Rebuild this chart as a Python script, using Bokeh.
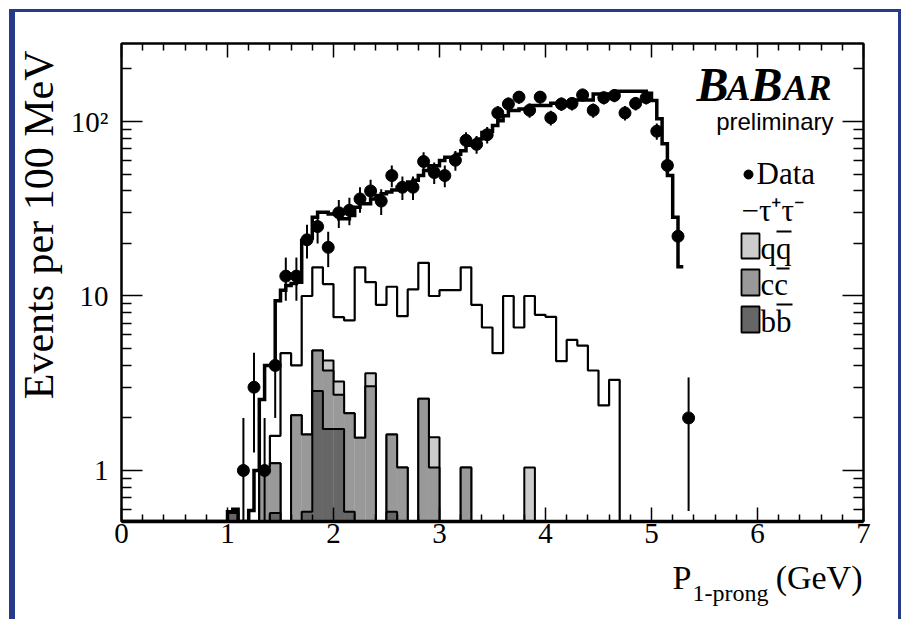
import math
from bokeh.plotting import figure
from bokeh.models import Range1d, LinearAxis, LogAxis, FixedTicker, Label, LinearScale, Spacer
from bokeh.layouts import column, row
from bokeh.embed import file_html
from bokeh.resources import INLINE

# ---------------- data ----------------
data_first_center = 1.15
data_bin_width = 0.1
data_counts = [1, 3, 1, 4, 13, 13, 21, 25, 19, 30, 31, 36, 40, 35, 49, 42, 42, 59, 51, 49,
               60, 78, 74, 84, 112, 126, 138, 116, 138, 105, 126, 127, 142, 116, 137, 141,
               112, 127, 137, 88, 56, 22, 2]

mc_first_edge = 1.0
mc_fine_width = 0.05
tautau_total = [0.58, 0.60, 0, 0, 0.59, 1.0, 2.55, 4.0, 4.0, 9.4,
                10.8, 11.5, 11.8, 12.0, 20.8, 21.5, 28.3, 30.2, 30.2, 29.5,
                29.6, 27.7, 27.7, 28.9, 32.3, 33.8, 33.8, 36.0, 37.7, 38.5,
                39.5, 40.5, 42.0, 43.0, 45.0, 46.0, 49.0, 52.4, 55.8, 55.8,
                59.8, 62.5, 62.5, 65.0, 68.0, 73.0, 76.0, 79.5, 86.6, 88.0,
                95.0, 101, 108, 115.6, 115.6, 118, 118, 123.6, 123.6, 123.6,
                123.6, 127.4, 127.4, 127.4, 127.4, 133, 133, 133, 133, 144,
                144, 144, 144, 149, 149, 149, 149, 149, 149, 145,
                132, 103.7, 74.5, 49, 28.3, 14.7]

bkg_first_edge = 1.0
bkg_width = 0.1
other_bkg = [0.58, 0, 0, 1.04, 1.58, 4.7, 4.0, 10.0, 14.6, 11.7,
             7.56, 7.24, 14.6, 12.0, 8.9, 11.3, 7.66, 10.9, 15.5, 10.0,
             10.8, 10.8, 14.6, 8.9, 6.6, 4.7, 10.0, 6.6, 10.0, 7.8,
             7.6, 4.23, 5.6, 5.2, 3.74, 2.36, 3.31]
bbbar = [0.57, 0, 0, 0, 0.57, 0, 0, 0.58, 2.85, 1.73,
         1.73, 0.58, 0, 0, 0, 0.58, 0, 0, 0, 0,
         0, 0, 0, 0, 0, 0, 0, 0, 0, 0,
         0, 0, 0, 0, 0, 0, 0]
ccbar = [0, 0, 0, 1.04, 0.53, 0, 2.07, 1.03, 2.02, 2.01,
         0.99, 1.55, 1.54, 3.04, 0, 1.03, 1.04, 0, 2.58, 1.04,
         0, 0, 1.04, 0, 0, 0, 0, 0, 0, 0,
         0, 0, 0, 0, 0, 0, 0]
qqbar = [0, 0, 0, 0, 0, 0, 0, 0, 0, 0.53,
         0.52, 0, 0, 0.57, 0, 0, 0, 0, 0, 0.51,
         0, 0, 0, 0, 0, 0, 0, 0, 1.04, 0,
         0, 0, 0, 0, 0, 0, 0]

x_ticks = [0, 1, 2, 3, 4, 5, 6, 7]
x_minor_ticks = [0.2, 0.4, 0.6, 0.8, 1.2, 1.4, 1.6, 1.8, 2.2, 2.4, 2.6, 2.8, 3.2, 3.4, 3.6, 3.8,
                 4.2, 4.4, 4.6, 4.8, 5.2, 5.4, 5.6, 5.8, 6.2, 6.4, 6.6, 6.8]
y_ticks = [1, 10, 100]
y_tick_labels = {1: "1", 10: "10", 100: "10\u00b2"}
y_minor_ticks = [0.6, 0.7, 0.8, 0.9, 2, 3, 4, 5, 6, 7, 8, 9, 20, 30, 40, 50, 60, 70, 80, 90, 200]

Y_MIN, Y_MAX = 0.51, 280
SERIF = "Liberation Serif"
BLUE = "#263a8c"
LIGHT, MID, DARK = "#cccccc", "#999999", "#666666"
MIDLINE = 0.3375  # em-box middle above the baseline


def label(fig, text, x, base, size, font=SERIF, style="normal", align="left", angle=0.0,
          xr="default", yr="default"):
    if angle:
        xx, yy = x - MIDLINE * size, base
    else:
        xx, yy = x, base - MIDLINE * size
    fig.add_layout(Label(x=xx, y=yy, x_range_name=xr, y_range_name=yr, text=text,
                         text_font=font, text_font_size="%dpx" % size, text_font_style=style,
                         text_align=align, text_baseline="middle", angle=angle,
                         text_color="black"))


def blank_fig(w, h, x0, x1, y_bottom, y_top):
    f = figure(width=w, height=h, x_range=Range1d(x0, x1), y_range=Range1d(y_bottom, y_top),
               output_backend="svg", toolbar_location=None,
               x_axis_location=None, y_axis_location=None, min_border=0)
    f.outline_line_color = None
    f.grid.visible = False
    f.background_fill_color = "white"
    f.border_fill_color = "white"
    return f


# ---------------- main figure (page x 65..898, y 12..557) ----------------
p = figure(width=833, height=545, x_range=Range1d(0, 7), y_range=Range1d(Y_MIN, Y_MAX),
           y_axis_type="log", output_backend="svg", toolbar_location=None,
           min_border_left=56, min_border_right=35, min_border_top=31, min_border_bottom=36)
p.background_fill_color = "white"
p.border_fill_color = "white"
p.outline_line_color = "black"
p.outline_line_width = 2
p.xgrid.visible = False
p.ygrid.visible = False

# frame-pixel helper ranges for the legend
p.extra_x_ranges = {"px": Range1d(121, 863)}
p.extra_y_ranges = {"py": Range1d(521, 43)}
p.extra_x_scales = {"px": LinearScale()}
p.extra_y_scales = {"py": LinearScale()}


def style_x(ax, labels=True):
    ax.ticker = FixedTicker(ticks=x_ticks, minor_ticks=x_minor_ticks)
    ax.major_tick_in = 14
    ax.major_tick_out = 0
    ax.minor_tick_in = 7
    ax.minor_tick_out = 0
    ax.major_tick_line_width = 1.5
    ax.minor_tick_line_width = 1.5
    ax.axis_line_color = "black"
    ax.major_label_text_font = SERIF
    ax.major_label_text_color = "black"
    if labels:
        ax.major_label_text_font_size = "29px"
        ax.major_label_standoff = 2
    else:
        ax.major_label_overrides = {t: "" for t in x_ticks}
        ax.major_label_text_font_size = "2px"
        ax.major_label_standoff = 0


def style_y(ax, labels=True):
    ax.ticker = FixedTicker(ticks=y_ticks, minor_ticks=y_minor_ticks)
    ax.major_tick_in = 21
    ax.major_tick_out = 0
    ax.minor_tick_in = 10
    ax.minor_tick_out = 0
    ax.major_tick_line_width = 1.5
    ax.minor_tick_line_width = 1.5
    ax.axis_line_color = "black"
    ax.major_label_text_font = SERIF
    ax.major_label_text_color = "black"
    if labels:
        ax.major_label_overrides = y_tick_labels
        ax.major_label_text_font_size = "29px"
        ax.major_label_standoff = 13
    else:
        ax.major_label_overrides = {t: "" for t in y_ticks}
        ax.major_label_text_font_size = "2px"
        ax.major_label_standoff = 0


style_x(p.below[0])
p.below[0].axis_line_width = 3.5
style_y(p.left[0])
p.left[0].axis_line_width = 2
top_ax = LinearAxis()
style_x(top_ax, labels=False)
top_ax.axis_line_width = 2
p.add_layout(top_ax, "above")
right_ax = LogAxis()
style_y(right_ax, labels=False)
right_ax.axis_line_width = 2
p.add_layout(right_ax, "right")


# ---------------- histograms ----------------
def edges_of(first, width, n):
    return [round(first + width * i, 4) for i in range(n + 1)]


def step_path(edges, vals, base, close_right=True, lead=None):
    xs, ys = [], []
    if lead is not None:
        xs.append(lead)
        ys.append(base)
    xs.append(edges[0])
    ys.append(base)
    for i, v in enumerate(vals):
        h = v if v > base else base
        xs += [edges[i], edges[i + 1]]
        ys += [h, h]
    if close_right:
        xs.append(edges[-1])
        ys.append(base)
    return xs, ys


def filled_hist(vals, first, width, fill, lw=2.0):
    e = edges_of(first, width, len(vals))
    lefts = [e[i] for i, v in enumerate(vals) if v > Y_MIN]
    rights = [e[i + 1] for i, v in enumerate(vals) if v > Y_MIN]
    tops = [v for v in vals if v > Y_MIN]
    if fill is not None and tops:
        p.quad(left=lefts, right=rights, bottom=Y_MIN, top=tops,
               fill_color=fill, line_color=None)
    xs, ys = step_path(e, vals, Y_MIN)
    p.line(xs, ys, line_color="black", line_width=lw)


nb = len(bbbar)
stack_b = [bbbar[i] for i in range(nb)]
stack_bc = [bbbar[i] + ccbar[i] for i in range(nb)]
stack_bcq = [bbbar[i] + ccbar[i] + qqbar[i] for i in range(nb)]

filled_hist(other_bkg, bkg_first_edge, bkg_width, "white", lw=2.2)
filled_hist(stack_bcq, bkg_first_edge, bkg_width, LIGHT)
filled_hist(stack_bc, bkg_first_edge, bkg_width, MID)
filled_hist(stack_b, bkg_first_edge, bkg_width, DARK)

te = edges_of(mc_first_edge, mc_fine_width, len(tautau_total))
txs, tys = step_path(te, tautau_total, Y_MIN, close_right=False, lead=0)
p.line(txs, tys, line_color="black", line_width=3.5, line_join="miter")

# ---------------- data points ----------------
dx = [round(data_first_center + data_bin_width * i, 3) for i in range(len(data_counts))]
lo = [max(n - math.sqrt(n), Y_MIN * 0.9) for n in data_counts]
hi = [n + math.sqrt(n) for n in data_counts]
p.segment(x0=dx, y0=lo, x1=dx, y1=hi, line_color="black", line_width=2)
p.scatter(x=dx, y=data_counts, size=12, color="black")

# ---------------- logo and legend (frame pixels) ----------------
kw = dict(xr="px", yr="py")
label(p, "B", 696, 100, 48, style="bold italic", **kw)
label(p, "A", 726, 100, 36, style="bold italic", **kw)
label(p, "B", 750, 100, 48, style="bold italic", **kw)
label(p, "AR", 783, 100, 36, style="bold italic", **kw)
label(p, "preliminary", 833, 129, 24, font="Liberation Sans", align="right", **kw)

p.scatter(x=[748], y=[174], size=9, color="black", x_range_name="px", y_range_name="py")
label(p, "Data", 756, 183, 31, **kw)
label(p, "\u2212\u03c4\u207a\u03c4\u207b", 741, 220, 31, **kw)
box_top = [233, 269, 306]
box_bot = [258, 295, 332]
p.quad(left=741, right=759, top=box_top, bottom=box_bot,
       fill_color=[LIGHT, MID, DARK], line_color="black", line_width=1.8,
       x_range_name="px", y_range_name="py")
label(p, "qq", 760, 258, 31, **kw)
label(p, "cc", 760, 294, 31, **kw)
label(p, "bb", 760, 331, 31, **kw)
p.segment(x0=[776, 776, 776], x1=[791, 789, 792], y0=[231, 268, 304], y1=[231, 268, 304],
          line_color="black", line_width=2, x_range_name="px", y_range_name="py")

# ---------------- axis titles in their own strips ----------------
ytitle = blank_fig(50, 607, 15, 65, 619, 12)
label(ytitle, "Events per 100 MeV", 53, 50, 42, align="right", angle=math.pi / 2)

# this strip's frame is aligned with the main frame (page x 121..863)
xtitle = blank_fig(833, 62, 121, 863, 619, 557)
label(xtitle, "P", 672, 588, 34)
label(xtitle, "1-prong", 692, 601, 24)
label(xtitle, "(GeV)", 862, 588, 34, align="right")

# ---------------- page frame (blue bars) ----------------
bar_left = Spacer(width=6, height=610, styles={"background-color": BLUE})
bar_right = Spacer(width=3, height=610, styles={"background-color": BLUE})
bar_top = Spacer(width=883, height=3, styles={"background-color": BLUE})

inner = row(ytitle, column(p, xtitle, spacing=0), spacing=0)
content = column(bar_top, inner, spacing=0)
page = column(Spacer(width=904, height=9),
              row(Spacer(width=9, height=610), bar_left, content, bar_right, spacing=0),
              spacing=0)

open("out.html", "w").write(file_html(page, INLINE))
